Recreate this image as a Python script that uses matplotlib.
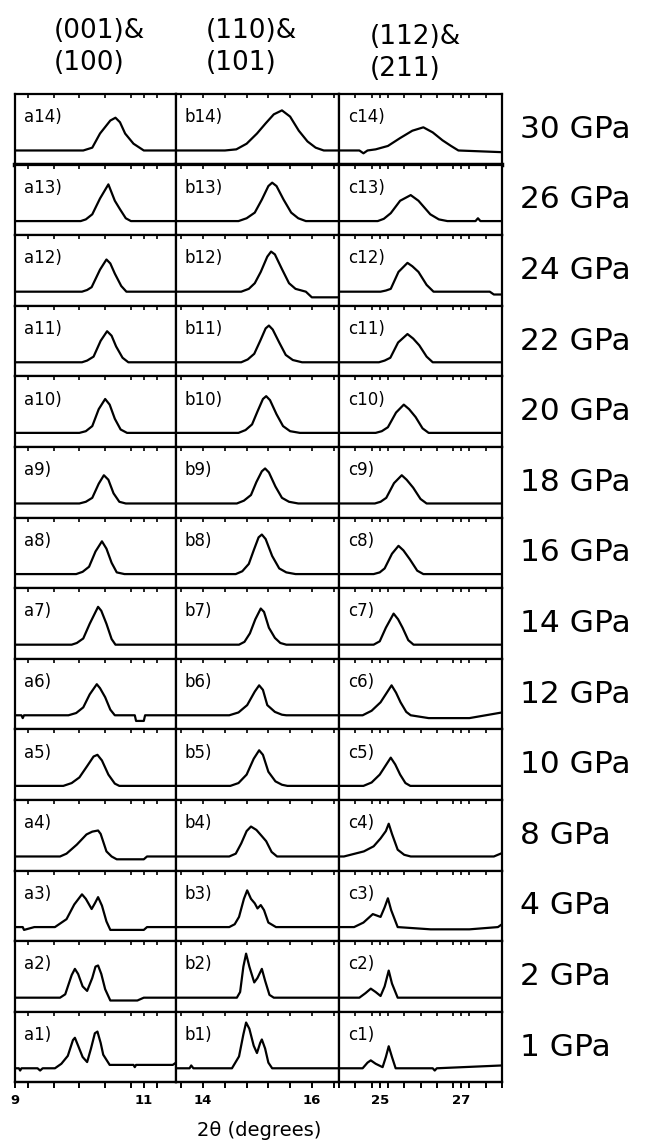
import matplotlib
matplotlib.use("Agg")
import matplotlib.pyplot as plt
from matplotlib.ticker import MultipleLocator, FixedLocator

# pressures, top row first
pressures = ['30 GPa', '26 GPa', '24 GPa', '22 GPa', '20 GPa', '18 GPa', '16 GPa',
             '14 GPa', '12 GPa', '10 GPa', '8 GPa', '4 GPa', '2 GPa', '1 GPa']
rows = [14, 13, 12, 11, 10, 9, 8, 7, 6, 5, 4, 3, 2, 1]
titles = ['(001)&\n(100)', '(110)&\n(101)', '(112)&\n(211)']
letters = ['a', 'b', 'c']
x_ranges = [(9.0, 11.5), (13.5, 16.5), (24.0, 28.0)]
major_ticks = [[9, 11], [14, 16], [25, 27]]

# 2theta (deg) and intensity (arb.) for each panel
col_a = {
    14: ([9.0, 10.06, 10.2, 10.32, 10.48, 10.56, 10.63, 10.71, 10.84, 11.0, 11.5],
         [0, 0, 0.05, 0.3, 0.53, 0.58, 0.5, 0.3, 0.12, 0, 0]),
    13: ([9.0, 10.02, 10.1, 10.2, 10.32, 10.45, 10.55, 10.63, 10.72, 10.8, 11.5],
         [0, 0, 0.03, 0.12, 0.4, 0.65, 0.36, 0.21, 0.05, 0, 0]),
    12: ([9.0, 10.04, 10.12, 10.19, 10.32, 10.42, 10.48, 10.55, 10.65, 10.73, 11.5],
         [0, 0, 0.03, 0.08, 0.39, 0.57, 0.5, 0.32, 0.1, 0, 0]),
    11: ([9.0, 10.04, 10.12, 10.22, 10.33, 10.43, 10.5, 10.57, 10.67, 10.76, 11.5],
         [0, 0, 0.03, 0.1, 0.38, 0.55, 0.47, 0.28, 0.08, 0, 0]),
    10: ([9.0, 10.0, 10.1, 10.2, 10.3, 10.4, 10.47, 10.55, 10.64, 10.74, 11.5],
         [0, 0, 0.03, 0.12, 0.42, 0.6, 0.5, 0.25, 0.06, 0, 0]),
    9: ([9.0, 10.0, 10.1, 10.2, 10.3, 10.38, 10.45, 10.53, 10.62, 10.72, 11.5],
        [0, 0, 0.03, 0.1, 0.35, 0.5, 0.42, 0.18, 0.03, 0, 0]),
    8: ([9.0, 9.95, 10.05, 10.15, 10.25, 10.35, 10.42, 10.5, 10.58, 10.7, 11.5],
        [0, 0, 0.04, 0.13, 0.4, 0.58, 0.45, 0.2, 0.03, 0, 0]),
    7: ([9.0, 9.88, 9.96, 10.06, 10.16, 10.29, 10.34, 10.42, 10.5, 10.56, 11.5],
        [0, 0, 0.03, 0.11, 0.37, 0.67, 0.6, 0.37, 0.1, 0, 0]),
    6: ([9.0, 9.1, 9.12, 9.14, 9.83, 9.95, 10.06, 10.16, 10.27, 10.32, 10.4, 10.48,
         10.55, 10.86, 10.88, 11.0, 11.02, 11.5],
        [0, 0, -0.05, 0, 0, 0.04, 0.14, 0.37, 0.55, 0.48, 0.32, 0.1, 0, 0, -0.1,
         -0.1, 0, 0]),
    5: ([9.0, 9.75, 9.88, 10.0, 10.12, 10.22, 10.28, 10.35, 10.45, 10.55, 10.62, 11.5],
        [0, 0, 0.05, 0.15, 0.35, 0.52, 0.55, 0.45, 0.2, 0.04, 0, 0]),
    4: ([9.0, 9.7, 9.8, 9.96, 10.11, 10.2, 10.29, 10.33, 10.42, 10.5, 10.58, 11.0,
         11.05, 11.5],
        [0, 0, 0.05, 0.21, 0.39, 0.44, 0.46, 0.4, 0.09, 0, -0.05, -0.05, 0, 0]),
    3: ([9.0, 9.12, 9.14, 9.3, 9.62, 9.8, 9.92, 10.04, 10.1, 10.19, 10.24, 10.29,
         10.35, 10.42, 10.48, 11.0, 11.05, 11.5],
        [0, 0, -0.05, 0, 0, 0.14, 0.4, 0.58, 0.5, 0.32, 0.42, 0.53, 0.38, 0.1,
         -0.05, -0.05, 0, 0]),
    2: ([9.0, 9.4, 9.7, 9.78, 9.88, 9.93, 9.98, 10.05, 10.12, 10.2, 10.25, 10.29,
         10.34, 10.4, 10.48, 10.9, 11.0, 11.5],
        [0, 0, 0, 0.06, 0.4, 0.51, 0.42, 0.2, 0.12, 0.35, 0.55, 0.57, 0.42, 0.15,
         -0.05, -0.05, 0, 0]),
    1: ([9.0, 9.06, 9.08, 9.1, 9.35, 9.39, 9.43, 9.62, 9.72, 9.82, 9.9, 9.93, 9.98,
         10.05, 10.12, 10.18, 10.24, 10.28, 10.33, 10.37, 10.47, 10.84, 10.86,
         10.88, 11.45, 11.5],
        [0, 0, -0.04, 0, 0, -0.04, 0, 0, 0.08, 0.22, 0.5, 0.54, 0.4, 0.2, 0.11,
         0.35, 0.62, 0.65, 0.45, 0.24, 0.06, 0.06, 0.02, 0.06, 0.06, 0.1]),
}

col_b = {
    14: ([13.5, 14.4, 14.61, 14.8, 14.99, 15.15, 15.3, 15.45, 15.6, 15.76, 15.92,
          16.07, 16.22, 16.5],
         [0, 0, 0.02, 0.12, 0.3, 0.48, 0.64, 0.71, 0.6, 0.35, 0.16, 0.05, 0, 0]),
    13: ([13.5, 14.65, 14.8, 14.95, 15.08, 15.2, 15.27, 15.35, 15.48, 15.62, 15.75,
          15.89, 16.5],
         [0, 0, 0.05, 0.15, 0.38, 0.62, 0.68, 0.62, 0.38, 0.15, 0.05, 0, 0]),
    12: ([13.5, 14.7, 14.84, 14.95, 15.06, 15.18, 15.25, 15.32, 15.45, 15.58, 15.7,
          15.89, 16.0, 16.5],
         [0, 0, 0.05, 0.15, 0.35, 0.62, 0.71, 0.66, 0.4, 0.15, 0.05, 0, -0.1, -0.1]),
    11: ([13.5, 14.7, 14.82, 14.94, 15.05, 15.15, 15.21, 15.28, 15.4, 15.52, 15.65,
          15.82, 16.5],
         [0, 0, 0.05, 0.15, 0.38, 0.6, 0.65, 0.58, 0.35, 0.13, 0.04, 0, 0]),
    10: ([13.5, 14.65, 14.78, 14.9, 15.0, 15.1, 15.16, 15.23, 15.35, 15.47, 15.6,
          15.78, 16.5],
         [0, 0, 0.05, 0.15, 0.38, 0.6, 0.65, 0.58, 0.33, 0.12, 0.03, 0, 0]),
    9: ([13.5, 14.62, 14.75, 14.88, 14.98, 15.08, 15.14, 15.21, 15.33, 15.45, 15.58,
         15.75, 16.5],
        [0, 0, 0.05, 0.15, 0.38, 0.57, 0.62, 0.55, 0.3, 0.1, 0.03, 0, 0]),
    8: ([13.5, 14.6, 14.72, 14.84, 14.93, 15.02, 15.08, 15.15, 15.27, 15.4, 15.53,
         15.7, 16.5],
        [0, 0, 0.05, 0.18, 0.42, 0.65, 0.7, 0.62, 0.32, 0.1, 0.03, 0, 0]),
    7: ([13.5, 14.66, 14.76, 14.86, 14.96, 15.06, 15.12, 15.21, 15.32, 15.42, 15.53,
         16.5],
        [0, 0, 0.05, 0.2, 0.45, 0.64, 0.58, 0.3, 0.12, 0.03, 0, 0]),
    6: ([13.5, 14.48, 14.65, 14.81, 14.95, 15.03, 15.1, 15.18, 15.32, 15.45, 15.53,
         16.5],
        [0, 0, 0.05, 0.18, 0.42, 0.53, 0.45, 0.18, 0.06, 0.01, 0, 0]),
    5: ([13.5, 14.5, 14.65, 14.8, 14.93, 15.03, 15.1, 15.2, 15.33, 15.45, 15.55,
         16.5],
        [0, 0, 0.05, 0.2, 0.48, 0.63, 0.55, 0.25, 0.08, 0.02, 0, 0]),
    4: ([13.5, 14.48, 14.6, 14.7, 14.8, 14.88, 14.98, 15.08, 15.16, 15.26, 15.36,
         16.5],
        [0, 0, 0.05, 0.23, 0.45, 0.53, 0.47, 0.36, 0.27, 0.08, 0, 0]),
    3: ([13.5, 14.48, 14.58, 14.66, 14.75, 14.81, 14.88, 14.95, 15.0, 15.06, 15.12,
         15.2, 15.34, 16.5],
        [0, 0, 0.05, 0.18, 0.5, 0.65, 0.5, 0.42, 0.33, 0.39, 0.3, 0.08, 0, 0]),
    2: ([13.5, 14.62, 14.68, 14.74, 14.79, 14.85, 14.94, 15.0, 15.08, 15.14, 15.22,
         15.3, 16.5],
        [0, 0, 0.1, 0.55, 0.78, 0.55, 0.27, 0.35, 0.51, 0.3, 0.05, 0, 0]),
    1: ([13.5, 13.75, 13.78, 13.82, 14.53, 14.66, 14.74, 14.79, 14.85, 14.93, 14.99,
         15.05, 15.08, 15.14, 15.2, 15.27, 16.5],
        [0, 0, 0.05, 0, 0, 0.21, 0.6, 0.81, 0.7, 0.4, 0.27, 0.45, 0.51, 0.35, 0.1,
         0, 0]),
}

col_c = {
    14: ([24.0, 24.5, 24.6, 24.7, 24.9, 25.2, 25.5, 25.8, 26.07, 26.3, 26.54, 26.75,
          26.93, 28.0],
         [0, 0, -0.05, 0, 0.02, 0.08, 0.22, 0.35, 0.41, 0.32, 0.18, 0.08, 0, -0.03]),
    13: ([24.0, 24.95, 25.1, 25.27, 25.5, 25.76, 25.95, 26.24, 26.45, 26.66, 27.35,
          27.41, 27.47, 28.0],
         [0, 0, 0.04, 0.14, 0.36, 0.46, 0.36, 0.12, 0.03, 0, 0, 0.05, 0, 0]),
    12: ([24.0, 25.02, 25.15, 25.27, 25.46, 25.68, 25.8, 25.95, 26.15, 26.32, 27.7,
          27.8, 28.0],
         [0, 0, 0.02, 0.05, 0.35, 0.51, 0.45, 0.35, 0.12, 0, 0, -0.05, -0.05]),
    11: ([24.0, 24.98, 25.12, 25.26, 25.45, 25.68, 25.82, 25.97, 26.15, 26.3, 28.0],
         [0, 0, 0.03, 0.08, 0.35, 0.5, 0.42, 0.3, 0.1, 0, 0]),
    10: ([24.0, 24.9, 25.05, 25.2, 25.4, 25.59, 25.72, 25.88, 26.05, 26.2, 28.0],
         [0, 0, 0.03, 0.1, 0.36, 0.5, 0.42, 0.28, 0.08, 0, 0]),
    9: ([24.0, 24.88, 25.02, 25.16, 25.35, 25.54, 25.66, 25.82, 26.0, 26.15, 28.0],
        [0, 0, 0.03, 0.1, 0.36, 0.5, 0.42, 0.28, 0.08, 0, 0]),
    8: ([24.0, 24.85, 25.0, 25.12, 25.3, 25.46, 25.58, 25.74, 25.92, 26.07, 28.0],
        [0, 0, 0.03, 0.1, 0.36, 0.5, 0.42, 0.26, 0.06, 0, 0]),
    7: ([24.0, 24.85, 25.0, 25.15, 25.34, 25.45, 25.56, 25.7, 25.83, 28.0],
        [0, 0, 0.06, 0.3, 0.55, 0.45, 0.3, 0.08, 0, 0]),
    6: ([24.0, 24.58, 24.8, 25.02, 25.29, 25.4, 25.51, 25.65, 25.76, 26.2, 27.2,
         27.6, 28.0],
        [0, 0, 0.08, 0.23, 0.53, 0.4, 0.23, 0.06, 0, -0.05, -0.05, 0, 0.05]),
    5: ([24.0, 24.6, 24.8, 25.0, 25.27, 25.38, 25.5, 25.63, 25.75, 28.0],
        [0, 0, 0.06, 0.2, 0.5, 0.38, 0.2, 0.05, 0, 0]),
    4: ([24.0, 24.12, 24.61, 24.85, 25.02, 25.15, 25.22, 25.3, 25.44, 25.6, 25.76,
         27.8, 27.9, 28.0],
        [0, 0, 0.09, 0.18, 0.32, 0.45, 0.58, 0.4, 0.12, 0.03, 0, 0, 0.03, 0.06]),
    3: ([24.0, 24.37, 24.6, 24.83, 25.02, 25.12, 25.2, 25.28, 25.44, 26.25, 27.2,
         27.9, 28.0],
        [0, 0, 0.08, 0.23, 0.18, 0.35, 0.51, 0.3, 0, -0.04, -0.04, 0, 0.05]),
    2: ([24.0, 24.5, 24.65, 24.78, 24.9, 25.02, 25.12, 25.22, 25.3, 25.44, 28.0],
        [0, 0, 0.08, 0.16, 0.1, 0.03, 0.2, 0.48, 0.25, 0, 0]),
    1: ([24.0, 24.58, 24.7, 24.78, 24.9, 25.07, 25.15, 25.22, 25.3, 25.39, 26.3,
         26.35, 26.4, 28.0],
        [0, 0, 0.1, 0.14, 0.08, 0.02, 0.2, 0.39, 0.2, 0, 0, -0.04, 0, 0.05]),
}
columns = [col_a, col_b, col_c]

W, H = 649, 1144
fig = plt.figure(figsize=(W / 100, H / 100), dpi=100)
col_px = [(15, 176), (176, 339), (339, 502)]
top_px = 94
row_h = 70.6

for r, n in enumerate(rows):
    for c in range(3):
        l, rr = col_px[c]
        y0 = top_px + (r + 1) * row_h
        ax = fig.add_axes([l / W, 1 - y0 / H, (rr - l) / W, row_h / H])
        xs, ys = columns[c][n]
        ax.plot(xs, ys, color='black', lw=1.6)
        ax.set_xlim(*x_ranges[c])
        ax.set_ylim(-0.25, 1.0)
        ax.set_yticks([])
        for sp in ax.spines.values():
            sp.set_linewidth(1.6)
        if r == 0:
            ax.spines['bottom'].set_linewidth(3.2)
        ax.text(0.055, 0.80, letters[c] + str(n) + ')', transform=ax.transAxes,
                fontsize=12, va='top', ha='left')

        # inward ticks along the top edge
        ax.xaxis.set_major_locator(FixedLocator(major_ticks[c]))
        ax.xaxis.set_minor_locator(MultipleLocator(0.4))
        ax.tick_params(axis='x', which='both', top=True, bottom=False,
                       labelbottom=False, direction='in', length=3, width=1.2)
        if r == len(rows) - 1:
            sec = ax.secondary_xaxis('bottom')
            sec.xaxis.set_major_locator(FixedLocator(major_ticks[c]))
            sec.xaxis.set_minor_locator(MultipleLocator(0.4))
            sec.spines['bottom'].set_linewidth(1.6)
            sec.tick_params(which='both', direction='out', length=4, width=1.4,
                            pad=4, labelsize=9.5)
            for lab in sec.get_xticklabels():
                lab.set_fontweight('bold')

    yc = top_px + (r + 0.5) * row_h
    fig.text(520 / W, 1 - yc / H, pressures[r], fontsize=22.5, ha='left',
             va='center')

title_x = [54, 206, 370]
title_y = [47, 47, 53]
for c in range(3):
    fig.text(title_x[c] / W, 1 - title_y[c] / H, titles[c], fontsize=19,
             ha='left', va='center', linespacing=1.35)

fig.text(259 / W, 1 - 1131 / H, '2θ (degrees)', fontsize=14, ha='center',
         va='center')

fig.savefig('out.png', dpi=100)
